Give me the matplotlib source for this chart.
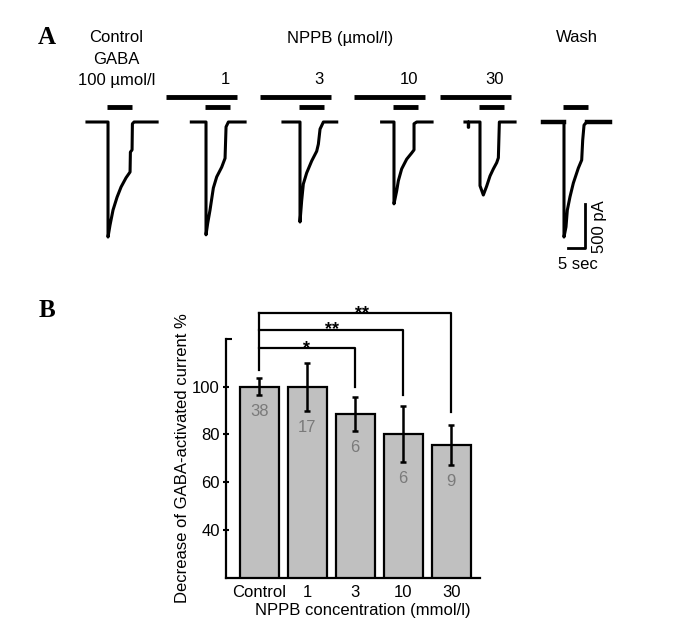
import matplotlib
matplotlib.use("Agg")
import matplotlib.pyplot as plt
from matplotlib.ticker import FixedLocator

plt.rcParams['font.family'] = ['Liberation Sans', 'DejaVu Sans']

# ---- Panel A: current traces (time in s from GABA onset, current in pA) ----
ctrl_t = [-6.3, 0, 0, 0.6, 1.5, 2.7, 3.9, 5.4, 6.6, 6.7, 7.2, 7.3, 7.8, 14.7]
ctrl_i = [0, 0, -1300, -1165, -995, -850, -735, -630, -565, -340, -315, -20, 0, 0]

n1_t = [-4.4, 0, 0, 0.5, 1.2, 2.2, 3.2, 4.7, 5.7, 6.0, 6.7, 11.7]
n1_i = [0, 0, -1275, -1145, -995, -745, -620, -510, -410, -55, 0, 0]

n3_t = [-5.1, 0, 0, 0.5, 1.0, 2.0, 3.5, 5.0, 5.5, 6.0, 7.0, 11.0]
n3_i = [0, 0, -1130, -890, -700, -575, -440, -330, -250, -80, 0, 0]

n10_t = [-3.7, 0, 0, 0.8, 1.3, 2.3, 3.8, 5.3, 6.0, 6.0, 6.8, 11.4]
n10_i = [0, 0, -925, -780, -665, -530, -420, -350, -315, -20, 0, 0]

n30_t = [-4.5, -3.5, -3.5, -3.4, -3.4, 0, 0, 1.0, 2.0, 3.0, 4.0, 5.0, 5.5, 5.8, 10.5]
n30_i = [0, 0, -60, -60, 0, 0, -720, -825, -725, -610, -530, -460, -405, 0, 0]

wash_t = [-6.4, 0, 0, 0.6, 1.0, 1.8, 2.8, 4.3, 5.3, 5.6, 6.0, 6.8, 13.8]
wash_i = [0, 0, -1300, -1185, -995, -845, -690, -520, -430, -205, -35, 0, 0]

nppb_conc = ['1', '3', '10', '30']
gaba_on = (-0.2, 7.2)      # GABA application (s)
nppb_on = (-12.0, 9.3)     # NPPB pre-application (s)

# ---- Panel B: bar chart ----
groups = ['Control', '1', '3', '10', '30']
means = [100, 100, 88.6, 80.3, 75.5]
sems = [3.5, 10, 7.2, 11.8, 8.3]
n_cells = [38, 17, 6, 6, 9]
sig_pairs = [(0, 2, '*'), (0, 3, '**'), (0, 4, '**')]

W, H = 688, 623
fig = plt.figure(figsize=(W / 100, H / 100), dpi=100)

def fx(px):
    return px / W

def fy(py):
    return 1 - py / H

# layout for panel A (pixel geometry of the original figure)
PX_PER_S = 3.34
PA_PER_PX = 11.3
BASE_PX = 122
onsets = [32.34, 61.68, 89.82, 117.96, 143.71, 168.86]
ax_a = fig.add_axes([0, fy(290), 1, (290 - 20) / H])
ax_a.set_xlim(0, W / PX_PER_S)
ax_a.set_ylim(-(290 - BASE_PX) * PA_PER_PX, (BASE_PX - 20) * PA_PER_PX)
ax_a.axis('off')

traces = [(ctrl_t, ctrl_i), (n1_t, n1_i), (n3_t, n3_i),
          (n10_t, n10_i), (n30_t, n30_i), (wash_t, wash_i)]
gaba_y = (BASE_PX - 106.7) * PA_PER_PX
nppb_y = (BASE_PX - 96.5) * PA_PER_PX
for k, (t, cur) in enumerate(traces):
    x0 = onsets[k]
    ax_a.plot([x0 + v for v in t], cur, color='black', lw=2.2,
              solid_joinstyle='round')
    ax_a.plot([x0 + gaba_on[0], x0 + gaba_on[1]], [gaba_y, gaba_y],
              color='black', lw=3.5, solid_capstyle='butt')
    if 1 <= k <= 4:
        ax_a.plot([x0 + nppb_on[0], x0 + nppb_on[1]], [nppb_y, nppb_y],
                  color='black', lw=3.5, solid_capstyle='butt')
        ax_a.text(x0 + nppb_on[1] - 2.1, (BASE_PX - 80) * PA_PER_PX,
                  nppb_conc[k - 1], ha='right', va='center', fontsize=12)
# thicker noisy baseline of wash trace
ax_a.plot([onsets[5] + wash_t[0], onsets[5]], [0, 0], color='black', lw=3.2)
ax_a.plot([onsets[5] + 6.8, onsets[5] + wash_t[-1]], [0, 0], color='black', lw=3.2)

# scale bar
sx, sy = 175.1, -1427
ax_a.plot([sx - 5, sx, sx], [sy, sy, sy + 500], color='black', lw=2.0)
ax_a.text(sx + 4.5, sy + 250, '500 pA', rotation=90, ha='center', va='center', fontsize=12)
ax_a.text(sx - 2.1, sy - 16 * PA_PER_PX, '5 sec', ha='center', va='center', fontsize=12)

fig.text(fx(116), fy(38), 'Control', ha='center', va='center', fontsize=12)
fig.text(fx(116), fy(60), 'GABA', ha='center', va='center', fontsize=12)
fig.text(fx(117), fy(80), '100 µmol/l', ha='center', va='center', fontsize=12)
fig.text(fx(340), fy(38), 'NPPB (µmol/l)', ha='center', va='center', fontsize=12)
fig.text(fx(577), fy(38), 'Wash', ha='center', va='center', fontsize=12)
fig.text(fx(46.5), fy(37), 'A', ha='center', va='center', fontsize=18,
         fontweight='bold', family='Liberation Serif')
fig.text(fx(47), fy(311), 'B', ha='center', va='center', fontsize=18,
         fontweight='bold', family='Liberation Serif')

# ---- Panel B ----
ax_b = fig.add_axes([fx(226), fy(577.8), (480 - 226) / W, (577.8 - 338.9) / H])
xs = list(range(len(groups)))
ax_b.bar(xs, means, width=0.81, color='#c0c0c0', edgecolor='black', linewidth=1.6, zorder=2)
ax_b.errorbar(xs, means, yerr=sems, fmt='none', ecolor='black', elinewidth=1.8,
              capsize=2.5, capthick=1.8, zorder=3)
for x, m, s, n in zip(xs, means, sems, n_cells):
    ax_b.text(x, m - s - 7, str(n), ha='center', va='center', fontsize=12,
              color='#7a7a7a', zorder=4)

ax_b.set_xlim(-0.69, 4.6)
ax_b.set_ylim(20, 120)
ax_b.set_yticks([40, 60, 80, 100])
ax_b.yaxis.set_minor_locator(FixedLocator([120]))
ax_b.set_xticks(xs)
ax_b.set_xticklabels(groups)
ax_b.tick_params(axis='y', which='major', direction='inout', length=5, width=1.5,
                 labelsize=12, pad=2)
ax_b.tick_params(axis='y', which='minor', direction='in', length=4, width=1.5)
ax_b.tick_params(axis='x', length=0, labelsize=12, pad=5)
for side in ['top', 'right']:
    ax_b.spines[side].set_visible(False)
for side in ['left', 'bottom']:
    ax_b.spines[side].set_linewidth(1.6)

ax_b.set_ylabel('Decrease of GABA-activated current %', fontsize=12)
ax_b.yaxis.set_label_coords(-0.14, 0.5)
ax_b.set_xlabel('NPPB concentration (mmol/l)', fontsize=12)
ax_b.xaxis.set_label_coords(0.54, -0.105)

# significance brackets
levels = [116, 123.7, 130.7]
drop_to = [100, 96.5, 89.5]
star_x = [0.99, 1.51, 2.15]
ax_b.plot([0, 0], [107, levels[-1]], color='black', lw=1.6, clip_on=False)
for (a, b, mark), lv, d, stx in zip(sig_pairs, levels, drop_to, star_x):
    ax_b.plot([a, b, b], [lv, lv, d], color='black', lw=1.6, clip_on=False)
    ax_b.text(stx, lv, mark, ha='center', va='center', fontsize=13,
              fontweight='bold', clip_on=False)

fig.savefig('out.png', dpi=100)
